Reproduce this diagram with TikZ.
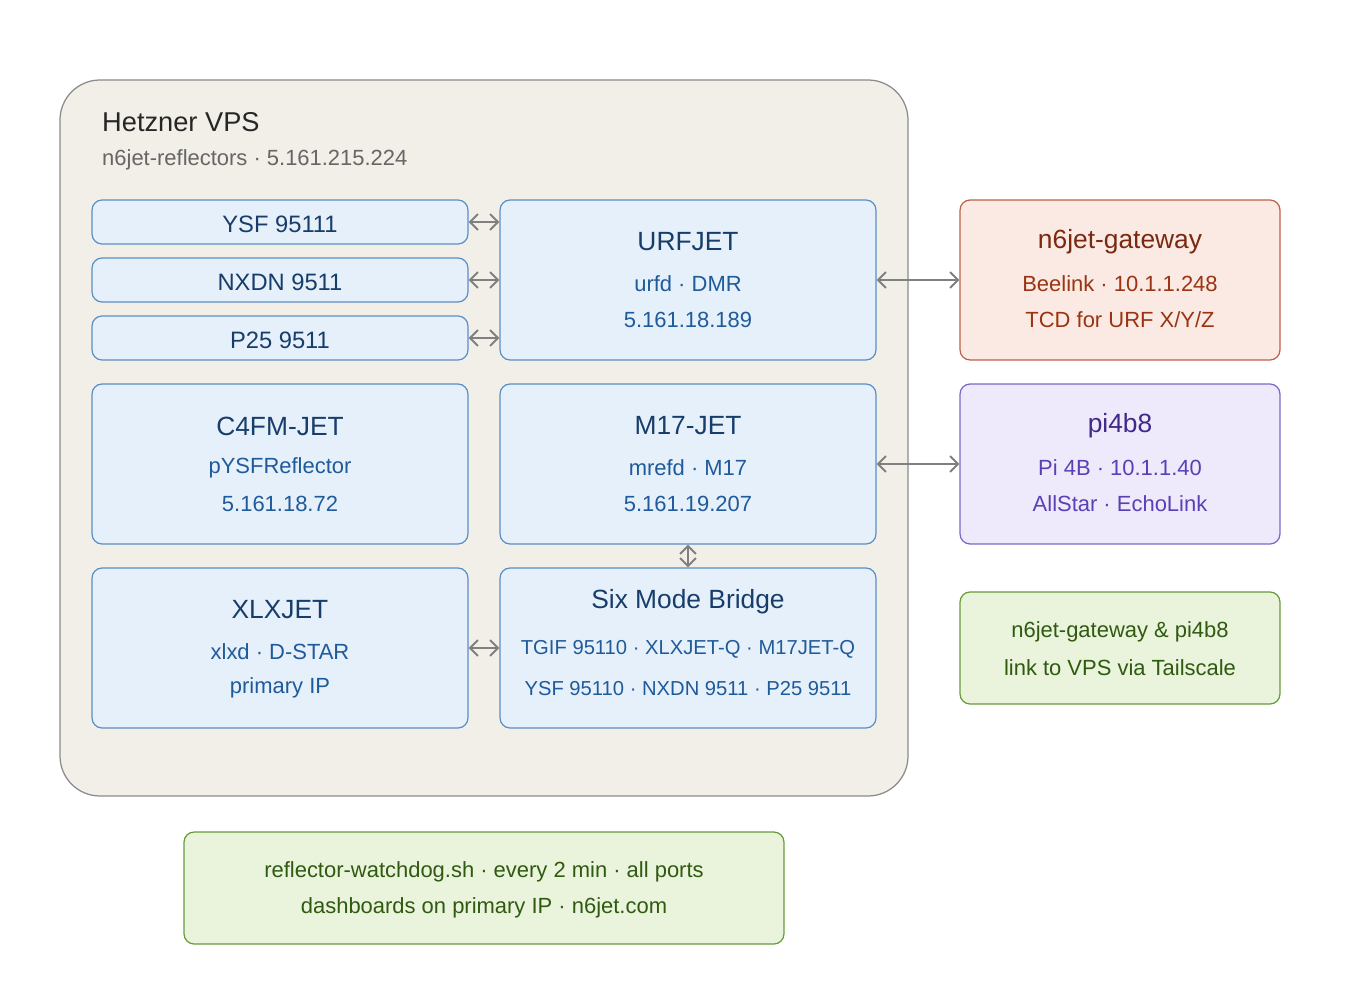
\documentclass[tikz,border=0pt]{standalone}
\usepackage{fontspec}
\setmainfont{Liberation Sans}
\usetikzlibrary{arrows.meta, positioning}
\definecolor{vpsfill}{HTML}{F2EFE9}
\definecolor{vpsdraw}{HTML}{8A8A8A}
\definecolor{bluefill}{HTML}{E6F0FA}
\definecolor{bluedraw}{HTML}{5B8FC7}
\definecolor{bluetext}{HTML}{1F5A9A}
\definecolor{bluetitle}{HTML}{173D6A}
\definecolor{redfill}{HTML}{FAEAE3}
\definecolor{reddraw}{HTML}{C0604A}
\definecolor{redtext}{HTML}{9A3412}
\definecolor{redtitle}{HTML}{7A2810}
\definecolor{purfill}{HTML}{EEEAFB}
\definecolor{purdraw}{HTML}{7B68C8}
\definecolor{purtext}{HTML}{5B3FB5}
\definecolor{purtitle}{HTML}{3F2A8A}
\definecolor{grnfill}{HTML}{EAF3DC}
\definecolor{grndraw}{HTML}{6A9A3A}
\definecolor{grntext}{HTML}{2F5A10}
\tikzset{box/.style = {
  rectangle, rounded corners=0.2cm, line width=0.7pt, inner sep=0pt
  }}
\tikzset{modebox/.style = {box, draw=bluedraw, fill=bluefill}}
\tikzset{ttl/.style = {text=bluetitle, font=\fontsize{15}{18}\selectfont}}
\tikzset{sub/.style = {text=bluetext, font=\fontsize{12.5}{15}\selectfont}}
\tikzset{link/.style = {
  {Straight Barb[length=1.6mm,width=3.2mm]}-{Straight Barb[length=1.6mm,width=3.2mm]},
  draw=black!50, line width=1.1pt
  }}
\begin{document}
\begin{tikzpicture}[x=0.02cm, y=-0.02cm]
\useasboundingbox (0,0) rectangle (1360,1000);
% VPS
\draw [box, rounded corners=0.8cm, draw=vpsdraw, fill=vpsfill] (60,80) rectangle (908,796);
\node (vpsname) [anchor=west, text=black!85, font=\fontsize{15.5}{18}\selectfont] at (96,122) {Hetzner VPS};
\node (vpssub) [anchor=west, text=black!60, font=\fontsize{12.5}{15}\selectfont] at (96,160) {n6jet-reflectors · 5.161.215.224};

% NODES
\node (ysf) [modebox, minimum width=7.52cm, minimum height=0.88cm] at (280,222) {};
\node (nxdn) [modebox, minimum width=7.52cm, minimum height=0.88cm] at (280,280) {};
\node (p25) [modebox, minimum width=7.52cm, minimum height=0.88cm] at (280,338) {};
\node [ttl, font=\fontsize{13.5}{16}\selectfont] at (280,224) {YSF 95111};
\node [ttl, font=\fontsize{13.5}{16}\selectfont] at (280,282) {NXDN 9511};
\node [ttl, font=\fontsize{13.5}{16}\selectfont] at (280,340) {P25 9511};

\node (urf) [modebox, minimum width=7.52cm, minimum height=3.2cm] at (688,280) {};
\node [ttl] at (688,242) {URFJET};
\node [sub] at (688,284) {urfd · DMR};
\node [sub] at (688,320) {5.161.18.189};

\node (c4fm) [modebox, minimum width=7.52cm, minimum height=3.2cm] at (280,464) {};
\node [ttl] at (280,426) {C4FM-JET};
\node [sub] at (280,468) {pYSFReflector};
\node [sub] at (280,504) {5.161.18.72};

\node (m17) [modebox, minimum width=7.52cm, minimum height=3.2cm] at (688,464) {};
\node [ttl] at (688,426) {M17-JET};
\node [sub] at (688,468) {mrefd · M17};
\node [sub] at (688,504) {5.161.19.207};

\node (xlx) [modebox, minimum width=7.52cm, minimum height=3.2cm] at (280,648) {};
\node [ttl] at (280,610) {XLXJET};
\node [sub] at (280,652) {xlxd · D-STAR};
\node [sub] at (280,688) {primary IP};

\node (bridge) [modebox, minimum width=7.52cm, minimum height=3.2cm] at (688,648) {};
\node [ttl] at (688,602) {Six Mode Bridge};
\node [sub, font=\fontsize{11.5}{14}\selectfont] at (688,649) {TGIF 95110 · XLXJET-Q · M17JET-Q};
\node [sub, font=\fontsize{11.5}{14}\selectfont] at (688,689) {YSF 95110 · NXDN 9511 · P25 9511};

\node (gw) [box, draw=reddraw, fill=redfill, minimum width=6.4cm, minimum height=3.2cm] at (1120,280) {};
\node [ttl, text=redtitle] at (1120,242) {n6jet-gateway};
\node [sub, text=redtext] at (1120,284) {Beelink · 10.1.1.248};
\node [sub, text=redtext] at (1120,320) {TCD for URF X/Y/Z};

\node (pi) [box, draw=purdraw, fill=purfill, minimum width=6.4cm, minimum height=3.2cm] at (1120,464) {};
\node [ttl, text=purtitle] at (1120,426) {pi4b8};
\node [sub, text=purtext] at (1120,468) {Pi 4B · 10.1.1.40};
\node [sub, text=purtext] at (1120,504) {AllStar · EchoLink};

\node (tail) [box, draw=grndraw, fill=grnfill, minimum width=6.4cm, minimum height=2.24cm] at (1120,648) {};
\node [sub, text=grntext] at (1120,632) {n6jet-gateway \& pi4b8};
\node [sub, text=grntext] at (1120,668) {link to VPS via Tailscale};

\node (dog) [box, draw=grndraw, fill=grnfill, minimum width=12cm, minimum height=2.24cm] at (484,888) {};
\node [sub, text=grntext] at (484,872) {reflector-watchdog.sh · every 2 min · all ports};
\node [sub, text=grntext] at (484,908) {dashboards on primary IP · n6jet.com};

% arrows
\draw [link] (ysf.east) -- (ysf.east -| urf.west);
\draw [link] (nxdn.east) -- (nxdn.east -| urf.west);
\draw [link] (p25.east) -- (p25.east -| urf.west);
\draw [link] (urf.east) -- (gw.west);
\draw [link] (m17.east) -- (pi.west);
\draw [link] (m17.south) -- (bridge.north);
\draw [link] (xlx.east) -- (bridge.west);
\end{tikzpicture}
\end{document}
